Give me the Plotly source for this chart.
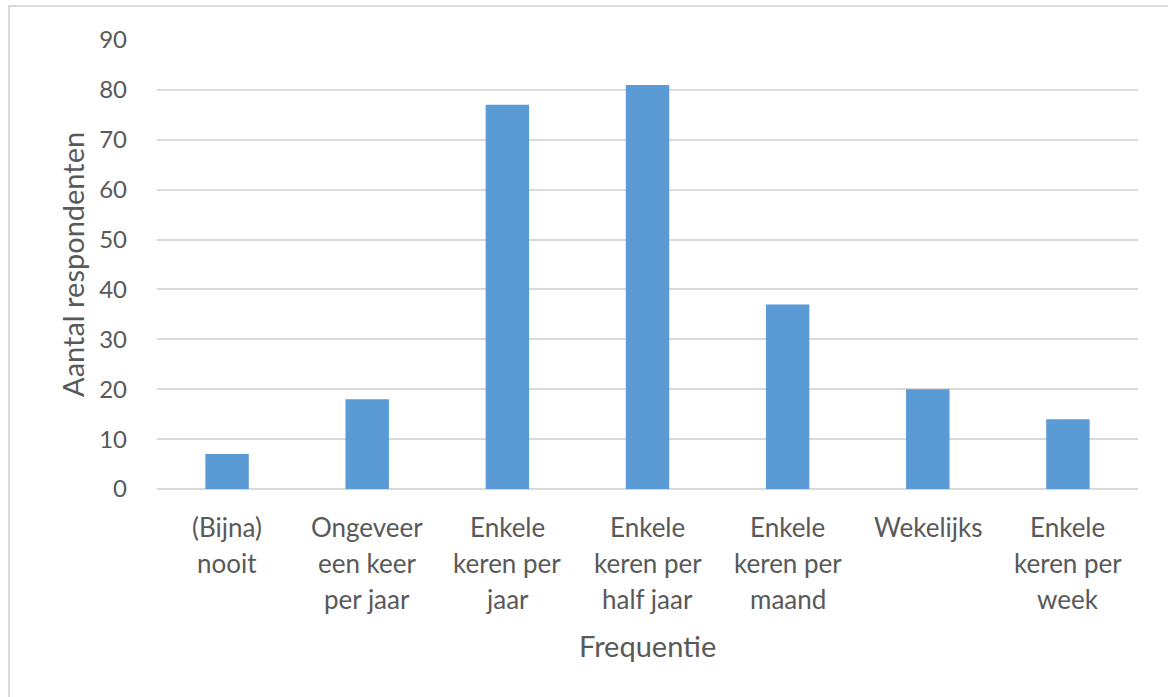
import plotly.graph_objects as go

# Survey: how often respondents do it
categories = [
    "(Bijna) nooit",
    "Ongeveer een keer per jaar",
    "Enkele keren per jaar",
    "Enkele keren per half jaar",
    "Enkele keren per maand",
    "Wekelijks",
    "Enkele keren per week",
]
# Wrapped label lines for each category
label_lines = [
    ["(Bijna)", "nooit"],
    ["Ongeveer", "een keer", "per jaar"],
    ["Enkele", "keren per", "jaar"],
    ["Enkele", "keren per", "half jaar"],
    ["Enkele", "keren per", "maand"],
    ["Wekelijks"],
    ["Enkele", "keren per", "week"],
]
counts = [7, 18, 77, 81, 37, 20, 14]
y_ticks = [0, 10, 20, 30, 40, 50, 60, 70, 80, 90]

FONT = "Lato"
TEXT = "#595959"
GRID = "#d9d9d9"
BAR = "#5b9bd5"

W, H = 1168, 697
L, R, T, B = 157, 30, 40, 208
PW, PH = W - L - R, H - T - B


def px_x(x):
    return (x - L) / PW


def px_y(y):
    return (H - B - y) / PH


fig = go.Figure(
    go.Bar(
        x=categories,
        y=counts,
        marker=dict(color=BAR, line=dict(width=0)),
        width=0.31,
    )
)

# Multi-line category labels below the axis, one annotation per line
line_y = [527, 563, 599]
for cat, lines in zip(categories, label_lines):
    for i, txt in enumerate(lines):
        fig.add_annotation(
            x=cat, xref="x", y=px_y(line_y[i]), yref="paper",
            text=txt, showarrow=False, xanchor="center", yanchor="middle",
            font=dict(family=FONT, size=26, color=TEXT),
        )

# Axis titles
fig.add_annotation(
    x=0.5, xref="paper", y=px_y(645), yref="paper", text="Frequentie",
    showarrow=False, xanchor="center", yanchor="middle",
    font=dict(family=FONT, size=29, color=TEXT),
)
fig.add_annotation(
    x=px_x(72), xref="paper", y=px_y(265), yref="paper", text="Aantal respondenten",
    showarrow=False, textangle=-90, xanchor="center", yanchor="middle",
    font=dict(family=FONT, size=29, color=TEXT),
)

# Chart frame (top and left edges)
fig.add_shape(type="rect", xref="paper", yref="paper",
              x0=px_x(9), x1=px_x(1180), y0=px_y(710), y1=px_y(6),
              line=dict(color=GRID, width=2), fillcolor="rgba(0,0,0,0)", layer="below")

fig.update_layout(
    width=W, height=H,
    margin=dict(l=L, r=R, t=T, b=B),
    paper_bgcolor="white", plot_bgcolor="white",
    showlegend=False,
    font=dict(family=FONT, color=TEXT),
    xaxis=dict(showticklabels=False, showgrid=False, zeroline=False,
               showline=False, fixedrange=True),
    yaxis=dict(range=[0, 90], tickvals=y_ticks, showgrid=True, gridcolor=GRID,
               gridwidth=2, zeroline=True, zerolinecolor=GRID, zerolinewidth=2,
               showline=False, ticks="", ticklabelstandoff=29,
               tickfont=dict(family=FONT, size=24, color=TEXT), fixedrange=True),
)

fig.write_html("out.html")
